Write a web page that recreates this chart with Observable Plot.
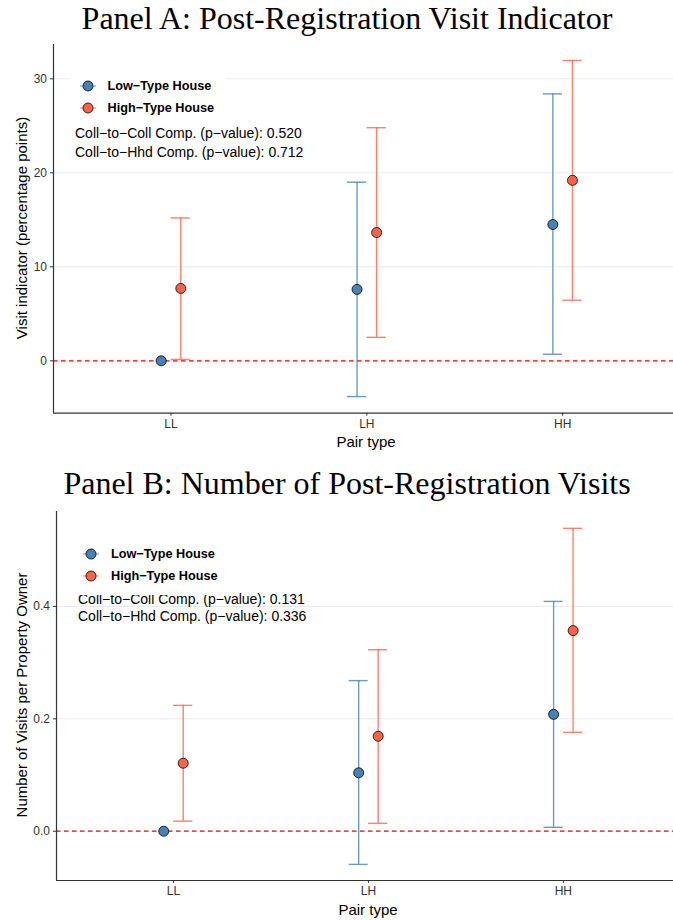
<!DOCTYPE html>
<html>
<head>
<meta charset="utf-8">
<script src="https://cdn.jsdelivr.net/npm/d3@7"></script>
<script src="https://cdn.jsdelivr.net/npm/@observablehq/plot@0.6"></script>
<style>
  html, body { margin: 0; padding: 0; background: #fff; }
  #root { position: relative; width: 673px; height: 920px; overflow: hidden; font-family: "Liberation Sans", Arial, sans-serif; color: #000; }
  .abs { position: absolute; white-space: nowrap; }
  .title { font-family: "Liberation Serif", "Times New Roman", serif; font-size: 32px; line-height: 32px; text-align: center; left: 21px; width: 652px; }
  .ylab { font-size: 15px; line-height: 15px; transform: translate(-50%, -50%) rotate(-90deg); }
  .xlab { font-size: 15px; line-height: 15px; transform: translate(-50%, -50%); }
  .note { font-size: 14px; line-height: 14px; }
  .legend { background: #fff; }
  .legitem { position: absolute; font-weight: bold; font-size: 12.7px; line-height: 13px; }
  .plotwrap { position: absolute; left: 0; }
</style>
</head>
<body>
<div id="root"></div>
<script>
// ---------------- data ----------------
const categories = ["LL", "LH", "HH"];
const groups = ["Low\u2212Type House", "High\u2212Type House"];
const groupColors = ["#4682B4", "#FF6347"];

// Panel A: Post-Registration Visit Indicator (percentage points)
const aLowEst  = [0.0, 7.6, 14.5];
const aLowLo   = [null, -3.8, 0.7];
const aLowHi   = [null, 19.0, 28.4];
const aHighEst = [7.7, 13.65, 19.2];
const aHighLo  = [0.15, 2.5, 6.45];
const aHighHi  = [15.2, 24.8, 31.95];
const aTicks   = [0, 10, 20, 30];
const aNotes   = ["Coll\u2212to\u2212Coll Comp. (p\u2212value): 0.520", "Coll\u2212to\u2212Hhd Comp. (p\u2212value): 0.712"];

// Panel B: Number of Post-Registration Visits
const bLowEst  = [0.0, 0.104, 0.208];
const bLowLo   = [null, -0.059, 0.007];
const bLowHi   = [null, 0.268, 0.409];
const bHighEst = [0.121, 0.169, 0.357];
const bHighLo  = [0.018, 0.014, 0.176];
const bHighHi  = [0.224, 0.323, 0.539];
const bTicks   = [0.0, 0.2, 0.4];
const bNotes   = ["Coll\u2212to\u2212Coll Comp. (p\u2212value): 0.131", "Coll\u2212to\u2212Hhd Comp. (p\u2212value): 0.336"];

const xTicks = [0, 1, 2];
const dodge = 0.05;
const capHalf = 0.049;

function rowsFor(series) {
  const out = [];
  series.forEach((s, g) => {
    categories.forEach((c, i) => {
      out.push({cat: c, g, x: i + (g === 0 ? -dodge : dodge), est: s.est[i], lo: s.lo[i], hi: s.hi[i]});
    });
  });
  return out;
}

const root = document.getElementById("root");
function addDiv(cls, text, style) {
  const d = document.createElement("div");
  d.className = "abs " + cls;
  d.textContent = text;
  Object.assign(d.style, style);
  root.appendChild(d);
  return d;
}

function panel(opts) {
  const rows = rowsFor(opts.series);
  const bars = rows.filter(d => d.lo != null && d.hi != null);
  const marks = [
    Plot.gridY(opts.ticks, {stroke: "#ebebeb", strokeOpacity: 1, strokeWidth: 1})
  ];
  marks.push(Plot.ruleY([0], {stroke: "#ff0000", strokeDasharray: "4.5,3.5", strokeWidth: 1.3}));
  groups.forEach((g, gi) => {
    const b = bars.filter(d => d.g === gi);
    const col = groupColors[gi];
    marks.push(Plot.ruleX(b, {x: "x", y1: "lo", y2: "hi", stroke: col, strokeOpacity: 0.8, strokeWidth: 1.4}));
    marks.push(Plot.ruleY(b, {y: "lo", x1: d => d.x - capHalf, x2: d => d.x + capHalf, stroke: col, strokeOpacity: 0.8, strokeWidth: 1.4}));
    marks.push(Plot.ruleY(b, {y: "hi", x1: d => d.x - capHalf, x2: d => d.x + capHalf, stroke: col, strokeOpacity: 0.8, strokeWidth: 1.4}));
  });
  groups.forEach((g, gi) => {
    marks.push(Plot.dot(rows.filter(d => d.g === gi), {x: "x", y: "est", r: 5, fill: groupColors[gi], stroke: "#000", strokeWidth: 0.8}));
  });
  marks.push(Plot.axisY(opts.ticks, {tickSize: 3, tickPadding: 3.5, fontSize: 12, tickFormat: opts.fmt, label: null, fill: "#333", stroke: "#333"}));
  marks.push(Plot.axisX(xTicks, {tickSize: 3, tickPadding: 3, fontSize: 12, tickFormat: i => categories[i], label: null, fill: "#333", stroke: "#333"}));
  marks.push(Plot.ruleX([opts.xDomain[0]], {stroke: "#333", strokeWidth: 1.2}));
  marks.push(Plot.ruleY([opts.yDomain[0]], {stroke: "#333", strokeWidth: 1.2}));

  const svg = Plot.plot({
    width: 673,
    height: opts.height,
    marginLeft: opts.marginLeft,
    marginRight: 0,
    marginTop: opts.marginTop,
    marginBottom: opts.marginBottom,
    style: {fontFamily: "'Liberation Sans', Arial, sans-serif", fontSize: "12px", background: "transparent", color: "#333", overflow: "visible"},
    x: {type: "linear", domain: opts.xDomain},
    y: {type: "linear", domain: opts.yDomain},
    marks
  });
  const wrap = document.createElement("div");
  wrap.className = "plotwrap";
  wrap.style.top = opts.top + "px";
  wrap.appendChild(svg);
  root.appendChild(wrap);
}

function legend(box, items) {
  const lg = document.createElement("div");
  lg.className = "abs legend";
  Object.assign(lg.style, {left: box.left + "px", top: box.top + "px", width: box.width + "px", height: box.height + "px"});
  root.appendChild(lg);
  groups.forEach((g, gi) => {
    const it = items[gi];
    const ns = "http://www.w3.org/2000/svg";
    const s = document.createElementNS(ns, "svg");
    s.setAttribute("width", 18); s.setAttribute("height", 14);
    s.style.position = "absolute";
    s.style.left = (it.mx - 9 - box.left) + "px";
    s.style.top = (it.my - 7 - box.top) + "px";
    const ln = document.createElementNS(ns, "line");
    ln.setAttribute("x1", 1); ln.setAttribute("x2", 17); ln.setAttribute("y1", 7); ln.setAttribute("y2", 7);
    ln.setAttribute("stroke", groupColors[gi]); ln.setAttribute("stroke-opacity", 0.6); ln.setAttribute("stroke-width", 1.4);
    s.appendChild(ln);
    const c = document.createElementNS(ns, "circle");
    c.setAttribute("cx", 9); c.setAttribute("cy", 7); c.setAttribute("r", 5);
    c.setAttribute("fill", groupColors[gi]); c.setAttribute("stroke", "#000"); c.setAttribute("stroke-width", 0.8);
    s.appendChild(c);
    lg.appendChild(s);
    const t = document.createElement("div");
    t.className = "legitem";
    t.textContent = g;
    t.style.left = (it.tx - box.left) + "px";
    t.style.top = (it.my - 6.5 - box.top) + "px";
    lg.appendChild(t);
  });
}

// ---------------- Panel A ----------------
addDiv("title", "Panel A: Post-Registration Visit Indicator", {top: "1.7px"});
panel({
  series: [{est: aLowEst, lo: aLowLo, hi: aLowHi}, {est: aHighEst, lo: aHighLo, hi: aHighHi}],
  ticks: aTicks, fmt: d3.format("d"),
  xDomain: [-0.6, 2.566], yDomain: [-5.57, 33.65],
  top: 40, height: 410, marginLeft: 53, marginTop: 4, marginBottom: 37.3
});
addDiv("ylab", "Visit indicator (percentage points)", {left: "21px", top: "228px"});
addDiv("xlab", "Pair type", {left: "366px", top: "441px"});
addDiv("note", aNotes[0], {left: "75px", top: "126px"});
addDiv("note", aNotes[1], {left: "75px", top: "144.5px"});
legend({left: 70, top: 70, width: 155, height: 48},
       [{mx: 87.5, my: 86, tx: 107.5}, {mx: 87.5, my: 108.3, tx: 107.5}]);

// ---------------- Panel B ----------------
addDiv("title", "Panel B: Number of Post-Registration Visits", {top: "467.2px"});
panel({
  series: [{est: bLowEst, lo: bLowLo, hi: bLowHi}, {est: bHighEst, lo: bHighLo, hi: bHighHi}],
  ticks: bTicks, fmt: d3.format(".1f"),
  xDomain: [-0.6, 2.565], yDomain: [-0.0877, 0.569],
  top: 505, height: 415, marginLeft: 56, marginTop: 6, marginBottom: 40
});
addDiv("ylab", "Number of Visits per Property Owner", {left: "21px", top: "695px"});
addDiv("xlab", "Pair type", {left: "368px", top: "908.5px"});
addDiv("note", bNotes[0], {left: "78px", top: "592px"});
addDiv("note", bNotes[1], {left: "78px", top: "608.5px"});
legend({left: 73, top: 538, width: 155, height: 57},
       [{mx: 90.7, my: 554.3, tx: 111}, {mx: 90.7, my: 576, tx: 111}]);
</script>
</body>
</html>
